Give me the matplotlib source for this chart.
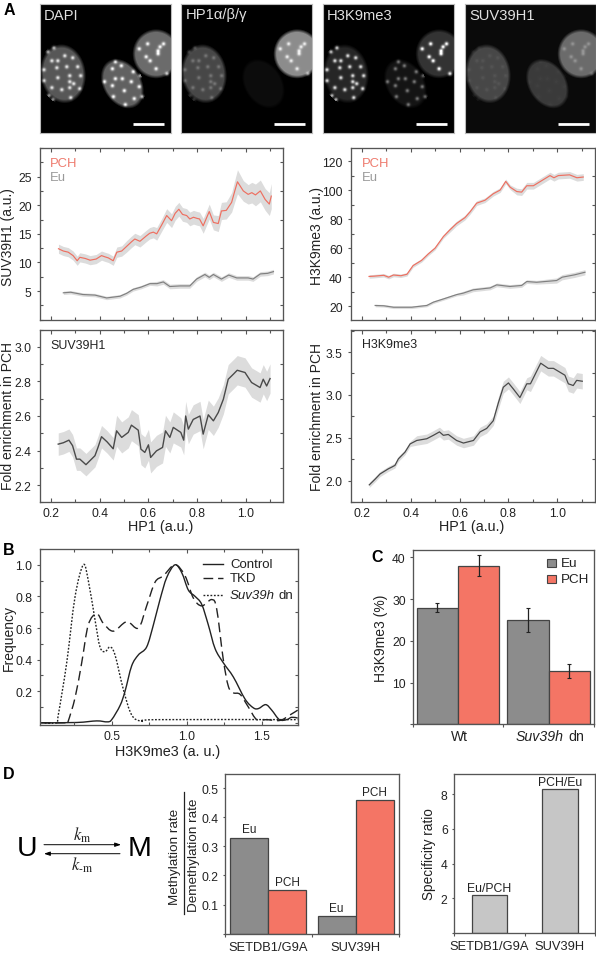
import numpy as np
import matplotlib
matplotlib.use("Agg")
import matplotlib.pyplot as plt
from matplotlib.patches import Rectangle, PathPatch
from matplotlib.path import Path
from matplotlib.ticker import MultipleLocator

plt.rcParams.update({
    "font.family": ["Liberation Sans", "DejaVu Sans"],
    "mathtext.fontset": "custom",
    "mathtext.rm": "Liberation Sans",
    "mathtext.it": "Liberation Sans:italic",
    "mathtext.bf": "Liberation Sans:bold",
})

W, H = 596, 954
SP = "#555555"; TXT = "#222222"
RED = "#F47565"; GREY = "#8C8C8C"; BAND = "#DCDCDC"; DARK = "#444444"

# ---------- A: micrographs ----------
channel_names = ["DAPI", "HP1α/β/γ", "H3K9me3", "SUV39H1"]
nuclei = [(62.3, 75, 23, 30, -8), (122, 85, 19.5, 27, -32), (156, 55, 24, 25, 0)]
foci_n1 = [(64,57),(57,62),(56,69),(66,68),(77,68),(43,82),(57,79),(69,77),(69,83),(69,89),(80,77),(51,89),
           (61,91),(73,85),(52,101),(70,99),(51,62),(53,49),(43,71),(47,53),(72,59),(48,97),(79,90)]
foci_n2 = [(122,80),(124,92),(139,88),(133,73),(112,87),(104,83),(115,63),(112,70),(121,67),(115,80),(113,98),
           (134,100),(142,98),(125,106),(140,77),(131,83)]
foci_n3 = [(160,48),(158,52),(147.5,45),(146,58),(150,62),(156,70),(167,75),(139,50),(158,55),(163.5,45)]
nuc_level = [(.34,.38,.42), (.28,.05,.55), (.15,.08,.20), (.24,.19,.38)]
foci_level = [(.55,.6,.55), (.18,.0,.38), (.7,.38,.8), (.05,.02,.16)]
background = [0.0, 0.0, 0.0, 0.04]
panel_left = [39.5, 181.4, 323.2, 465.0]

# ---------- A: HP1-binned curves ----------
a1_pch_x = [.23,.25,.27,.29,.307,.318,.34,.36,.385,.407,.42,.435,.455,.47,.49,.51,.53,.544,.565,.59,.605,.62,.634,.655,.675,.695,.71,.725,.74,.757,.77,.785,.80,.81,.825,.85,.867,.887,.90,.92,.942,.955,.966,.99,1.01,1.025,1.04,1.06,1.08,1.097,1.105]
a1_pch_y = [12.4,12.0,11.8,11.2,10.3,10.9,10.7,10.4,10.6,11.2,11.0,10.8,10.3,11.8,12.0,12.8,13.6,14.1,13.7,14.6,15.1,15.3,15.0,16.6,18.2,17.3,18.6,19.3,18.4,18.2,17.6,17.9,17.7,17.6,16.4,18.9,17.0,16.8,19.0,19.1,20.5,22.5,24.1,22.5,21.9,22.2,21.8,22.5,21.0,20.2,21.6]
a1_pch_e = [.8,.8,.8,.8,.8,.8,.8,.8,.8,.8,.8,.8,.8,.9,.9,1.0,1.0,1.0,1.0,1.0,1.0,1.0,1.1,1.1,1.2,1.2,1.2,1.2,1.2,1.2,1.2,1.2,1.2,1.2,1.3,1.3,1.3,1.4,1.5,1.5,1.7,1.9,2.1,1.8,1.7,1.8,1.9,1.9,1.9,2.0,2.2]
a1_eu_x = [.25,.28,.33,.38,.428,.483,.51,.537,.57,.606,.635,.661,.688,.73,.77,.798,.832,.85,.867,.90,.93,.963,1.01,1.03,1.06,1.09,1.114]
a1_eu_y = [4.7,4.8,4.4,4.3,3.8,4.1,4.6,5.3,5.7,6.3,6.3,6.6,5.8,5.9,5.9,7.1,7.9,7.4,7.9,7.1,7.8,7.3,7.3,7.1,8.0,8.1,8.4]
a1_eu_e = [.3]*10 + [.4]*17
a2_pch_x = [.23,.25,.29,.31,.33,.36,.385,.41,.445,.472,.50,.534,.56,.588,.622,.643,.67,.704,.738,.766,.789,.807,.834,.854,.875,.902,.936,.97,.986,1.004,1.05,1.08,1.106]
a2_pch_y = [40.5,40.7,41.3,40.0,41.5,41.0,42.0,48.0,51.6,56.0,60.0,68.0,72.5,77.0,81.0,85.0,91.0,93.0,97.5,100.0,106.0,102.0,99.0,98.6,103.0,103.0,106.5,110.0,108.5,110.0,110.5,108.5,109.0]
a2_pch_e = [1.2]*12 + [1.6]*10 + [2.3]*11
a2_eu_x = [.255,.29,.33,.404,.466,.493,.534,.588,.615,.656,.725,.752,.806,.854,.875,.915,.997,1.02,1.07,1.113]
a2_eu_y = [20.5,20.3,19.3,19.3,20.5,22.8,25.0,28.0,29.0,31.3,32.6,34.7,33.6,34.3,37.0,36.5,37.7,40.0,41.6,43.4]
a2_eu_e = [.9]*8 + [1.3]*8 + [1.8]*4
a3_x = [.229,.25,.273,.288,.304,.318,.343,.38,.393,.407,.43,.455,.469,.49,.517,.53,.558,.569,.585,.60,.609,.633,.658,.67,.688,.702,.733,.745,.753,.764,.784,.812,.825,.846,.867,.887,.908,.928,.949,.965,.997,1.024,1.059,1.072,1.086,1.10]
a3_y = [2.437,2.445,2.46,2.428,2.35,2.35,2.318,2.37,2.42,2.48,2.45,2.41,2.514,2.476,2.505,2.547,2.518,2.408,2.389,2.433,2.36,2.398,2.418,2.514,2.476,2.534,2.505,2.46,2.60,2.524,2.58,2.60,2.495,2.607,2.572,2.62,2.697,2.813,2.842,2.865,2.852,2.794,2.765,2.813,2.774,2.817]
a3_e = [.065]*12 + [.09]*14 + [.085]*20
a4_x = [.231,.255,.275,.309,.323,.336,.35,.377,.398,.425,.466,.493,.518,.534,.554,.588,.616,.657,.684,.711,.738,.759,.779,.80,.82,.847,.875,.89,.932,.963,.984,1.031,1.045,1.065,1.079,1.102]
a4_y = [1.953,2.02,2.08,2.14,2.16,2.18,2.256,2.334,2.43,2.47,2.49,2.53,2.57,2.53,2.54,2.47,2.44,2.47,2.57,2.61,2.70,2.91,3.09,3.14,3.07,2.97,3.13,3.13,3.37,3.31,3.31,3.23,3.13,3.11,3.17,3.16]
a4_e = [.03]*9 + [.055]*12 + [.07]*6 + [.09]*9

# ---------- B ----------
ctrl_x = [.03,.267,.40,.47,.50,.556,.589,.633,.678,.733,.778,.822,.867,.922,.967,1.011,1.056,1.10,1.144,1.189,1.244,1.311,1.389,1.444,1.478,1.527,1.567,1.618,1.667,1.70,1.74]
ctrl_y = [0,.002,.012,.006,.02,.11,.20,.36,.43,.48,.62,.78,.92,1.0,.95,.84,.80,.75,.62,.47,.38,.29,.15,.095,.09,.115,.08,.02,.02,.035,.03]
tkd_x = [.03,.20,.21,.256,.30,.344,.40,.444,.511,.60,.678,.733,.789,.844,.922,.989,1.044,1.10,1.167,1.20,1.244,1.278,1.311,1.356,1.411,1.467,1.533,1.622,1.689,1.74]
tkd_y = [0,0,.01,.16,.38,.62,.69,.63,.58,.64,.60,.74,.89,.93,1.0,.93,.79,.74,.78,.72,.40,.23,.19,.18,.10,.02,.02,.015,.05,.08]
suv_x = [.03,.13,.144,.20,.256,.311,.344,.389,.422,.456,.489,.522,.578,.633,.70,.80,1.74]
suv_y = [0,0,.05,.38,.80,1.0,.90,.65,.48,.45,.48,.43,.21,.05,.01,.02,.02]

# ---------- C ----------
c_groups = ["Wt", "Suv39h dn"]
c_eu = [27.9, 25.0]; c_pch = [38.0, 12.8]
c_eu_err = [1.1, 2.85]; c_pch_err = [2.6, 1.65]

# ---------- D ----------
d_groups = ["SETDB1/G9A", "SUV39H"]
d_eu = [.33, .06]; d_pch = [.15, .46]
d_ratio = [2.2, 8.3]; d_ratio_labels = ["Eu/PCH", "PCH/Eu"]

fig = plt.figure(figsize=(W/100, H/100), dpi=100, facecolor="white")

def make_ax(l, t, r, b):
    ax = fig.add_axes([l/W, 1-b/H, (r-l)/W, (b-t)/H])
    for s in ax.spines.values():
        s.set_color(SP); s.set_linewidth(0.95)
    return ax

def style(ax, xmaj=None, xmin=None, ymaj=None, ymin=None, fs=8.7, box=True):
    if xmaj: ax.xaxis.set_major_locator(MultipleLocator(xmaj))
    if xmin: ax.xaxis.set_minor_locator(MultipleLocator(xmin))
    if ymaj: ax.yaxis.set_major_locator(MultipleLocator(ymaj))
    if ymin: ax.yaxis.set_minor_locator(MultipleLocator(ymin))
    ax.tick_params(axis="x", which="both", direction="in", top=box, color=SP, width=0.8, labelsize=fs, labelcolor=TXT, pad=3.5)
    ax.tick_params(axis="y", which="both", direction="in", right=box, color=SP, width=0.8, labelsize=fs, labelcolor=TXT, pad=3.5)
    ax.tick_params(which="major", length=3); ax.tick_params(which="minor", length=2)
    ax.tick_params(axis="y", which="major", left=True, direction="out", length=2.2, right=False)

# micrographs
yy, xx = np.mgrid[4.5:134:130j, 0:131:131j]
for i, name in enumerate(channel_names):
    ax = make_ax(panel_left[i], 4.5, min(panel_left[i]+131, 596), 134)
    img = np.full(xx.shape, background[i])
    X = xx + 39.5
    for (cx, cy, rx, ry, ang), nl, fl, foci in zip(nuclei, nuc_level[i], foci_level[i], [foci_n1, foci_n2, foci_n3]):
        a = np.deg2rad(ang)
        u = (X-cx)*np.cos(a) + (yy-cy)*np.sin(a)
        v = -(X-cx)*np.sin(a) + (yy-cy)*np.cos(a)
        d = np.sqrt((u/rx)**2 + (v/ry)**2)
        img += nl*np.clip((1-d)*7, 0, 1)
        for fx, fy in foci:
            img += fl*np.exp(-((X-fx)**2 + (yy-fy)**2)/(2*1.35**2))*(d < 1.05)
    ax.imshow(np.clip(img, 0, 1), cmap="gray", vmin=0, vmax=1, aspect="auto", interpolation="bilinear",
              extent=[0, 131, 134, 4.5])
    ax.set_xlim(0, 131); ax.set_ylim(134, 4.5)
    ax.set_xticks([]); ax.set_yticks([])
    for s in ax.spines.values():
        s.set_color("#BBBBBB"); s.set_linewidth(0.8)
    ax.text(4, 15.5, name, color="#E0E0E0", fontsize=10.6, va="center", ha="left")
    ax.plot([93, 124], [125, 125], color="white", lw=2, solid_capstyle="butt")

def curve(ax, x, y, e, col, lw=0.85):
    x, y, e = np.array(x), np.array(y), np.array(e)
    ax.fill_between(x, y-e, y+e, color=BAND, lw=0)
    ax.plot(x, y, color=col, lw=lw)

def smooth_line(ax, x, y, **kw):
    """Draw through every listed point with Bezier joins."""
    p = np.column_stack([x, y])
    verts = [p[0]]; codes = [Path.MOVETO]
    for k in range(len(p)-1):
        p0 = p[max(k-1, 0)]; p1 = p[k]; p2 = p[k+1]; p3 = p[min(k+2, len(p)-1)]
        verts += [p1+(p2-p0)/6, p2-(p3-p1)/6, p2]
        codes += [Path.CURVE4]*3
    ax.add_patch(PathPatch(Path(verts, codes), fc="none", ec="#222222", lw=1.0, **kw))

XL = (0.152, 1.152)
ax = make_ax(39.5, 149, 282.7, 320.7)
curve(ax, a1_pch_x, a1_pch_y, a1_pch_e, "#EE6F60")
curve(ax, a1_eu_x, a1_eu_y, a1_eu_e, "#808080")
ax.set_xlim(*XL); ax.set_ylim(0, 30)
style(ax, .2, .1, 5, 2.5); ax.set_yticks([5,10,15,20,25]); ax.tick_params(axis="x", which="major", labelbottom=False)

ax = make_ax(350.7, 149, 595, 321)
curve(ax, a2_pch_x, a2_pch_y, a2_pch_e, "#EE6F60")
curve(ax, a2_eu_x, a2_eu_y, a2_eu_e, "#808080")
ax.set_xlim(0.155, 1.154); ax.set_ylim(10.5, 129)
style(ax, .2, .1, 20, 10); ax.set_yticks([20,40,60,80,100,120]); ax.tick_params(axis="x", which="major", labelbottom=False)

ax = make_ax(39.5, 330.7, 282.7, 503.3)
curve(ax, a3_x, a3_y, a3_e, "#4A4A4A", lw=1.0)
ax.set_xlim(*XL); ax.set_ylim(2.1, 3.1)
style(ax, .2, .1, .2, .1); ax.set_xticks([.2,.4,.6,.8,1.0]); ax.set_yticks([2.2,2.4,2.6,2.8,3.0])

ax = make_ax(350.7, 330.7, 595, 503.3)
curve(ax, a4_x, a4_y, a4_e, "#4A4A4A", lw=0.9)
ax.set_xlim(0.155, 1.154); ax.set_ylim(1.75, 3.76)
style(ax, .2, .1, .5, .25); ax.set_xticks([.2,.4,.6,.8,1.0]); ax.set_yticks([2.0,2.5,3.0,3.5])

# B
ax = make_ax(40.3, 550, 298.3, 725.7)
smooth_line(ax, ctrl_x, ctrl_y)
smooth_line(ax, tkd_x, tkd_y, linestyle=(0, (7, 3.5)))
smooth_line(ax, suv_x, suv_y, linestyle=(0, (1.3, 1.2)))
ax.set_xlim(0.024, 1.744); ax.set_ylim(-0.012, 1.10)
style(ax, .5, .25, .2, .1); ax.set_xticks([.5,1.0,1.5]); ax.set_yticks([.2,.4,.6,.8,1.0])

# C
ax = make_ax(412.7, 550.7, 594, 725.4)
cpos = np.arange(len(c_groups)) + .5
bw = 0.456
ax.bar(cpos-bw/2, c_eu, bw, color=GREY, edgecolor=DARK, lw=0.9)
ax.bar(cpos+bw/2, c_pch, bw, color=RED, edgecolor=DARK, lw=0.9)
ek = dict(ecolor="#222222", elinewidth=0.9, capsize=1.2, capthick=0.8, ls="none")
ax.errorbar(cpos-bw/2, c_eu, yerr=c_eu_err, **ek)
ax.errorbar(cpos+bw/2, c_pch, yerr=c_pch_err, **ek)
ax.set_xlim(0, 2); ax.set_ylim(0, 41.8)
ax.set_yticks([0,10,20,30,40]); ax.set_yticklabels(["","10","20","30","40"])
ax.set_xticks([0,1,2]); ax.set_xticklabels([])
ax.tick_params(axis="both", direction="out", length=2, color=SP, width=.8, labelsize=8.7, labelcolor=TXT, pad=3)

# D1
ax = make_ax(224.7, 775, 399.2, 934.6)
dpos = np.arange(2) + .5
bw = 0.435
b1 = ax.bar(dpos-bw/2, d_eu, bw, color=GREY, edgecolor=DARK, lw=0.9)
b2 = ax.bar(dpos+bw/2, d_pch, bw, color=RED, edgecolor=DARK, lw=0.9)
for r in b1:
    ax.text(r.get_x()+r.get_width()/2, r.get_height()+.008, "Eu", ha="center", va="bottom", fontsize=8.5, color=TXT)
for r in b2:
    ax.text(r.get_x()+r.get_width()/2, r.get_height()+.008, "PCH", ha="center", va="bottom", fontsize=8.5, color=TXT)
ax.set_xlim(0, 2); ax.set_ylim(0, 0.549)
ax.set_yticks([0,.1,.2,.3,.4,.5]); ax.set_yticklabels(["","0.1","0.2","0.3","0.4","0.5"])
ax.set_xticks([0,1,2]); ax.set_xticklabels([])
ax.set_xticks(dpos, d_groups, minor=True)
ax.tick_params(axis="both", which="major", direction="out", length=1.8, color=SP, width=.8, labelsize=8.7, labelcolor=TXT, pad=3)
ax.tick_params(axis="x", which="minor", length=0, labelsize=9.3, labelcolor=TXT, pad=5)

# D2
ax = make_ax(454.3, 775, 595, 934.2)
bars = ax.bar(dpos, d_ratio, 0.51, color="#C6C6C6", edgecolor=DARK, lw=0.9)
for r, t in zip(bars, d_ratio_labels):
    ax.text(r.get_x()+r.get_width()/2, r.get_height()+.03, t, ha="center", va="bottom", fontsize=8.8, color=TXT)
ax.set_xlim(0, 2); ax.set_ylim(0, 9.15)
ax.set_yticks([0,2,4,6,8]); ax.set_yticklabels(["","2","4","6","8"])
ax.set_xticks([0,1,2]); ax.set_xticklabels([])
ax.set_xticks(dpos, d_groups, minor=True)
ax.tick_params(axis="both", which="major", direction="out", length=1.8, color=SP, width=.8, labelsize=8.7, labelcolor=TXT, pad=3)
ax.tick_params(axis="x", which="minor", length=0, labelsize=9.3, labelcolor=TXT, pad=5)

# overlay in pixel coordinates for labels and the scheme
ov = fig.add_axes([0, 0, 1, 1], zorder=20); ov.set_xlim(0, W); ov.set_ylim(H, 0); ov.axis("off"); ov.patch.set_alpha(0)
def T(x, y, s, fs=10, rot=0, ha="center", col=TXT, **kw):
    ov.text(x, y, s, fontsize=fs, rotation=rot, ha=ha, va="center", color=col, **kw)

for x, y, s in [(9, 10.5, "A"), (9, 550.5, "B"), (377, 558, "C"), (9, 775, "D")]:
    T(x, y, s, fs=11.5, fontweight="bold", col="black")

T(8, 237, "SUV39H1 (a.u.)", rot=90); T(317, 236, "H3K9me3 (a.u.)", rot=90)
T(8, 416, "Fold enrichment in PCH", rot=90); T(317, 417, "Fold enrichment in PCH", rot=90)
T(161, 527, "HP1 (a.u.)", fs=10.4); T(472, 527, "HP1 (a.u.)", fs=10.4)
for x in (50, 361.7):
    T(x, 164, "PCH", fs=9.4, ha="left", col="#EE7B6E")
    T(x, 178, "Eu", fs=9.4, ha="left", col="#9A9A9A")
T(50, 346, "SUV39H1", fs=8.9, ha="left"); T(361.7, 345, "H3K9me3", fs=8.9, ha="left")

T(9, 638, "Frequency", rot=90); T(168, 752, "H3K9me3 (a. u.)", fs=10.4)
ov.plot([203, 223], [565, 565], color="#222222", lw=1.0)
ov.plot([203, 223], [579, 579], color="#222222", lw=1.0, dashes=(7, 3.5))
ov.plot([203, 223], [596, 596], color="#222222", lw=1.0, dashes=(1.3, 1.2))
T(230, 565, "Control", fs=9.5, ha="left"); T(230, 579.5, "TKD", fs=9.5, ha="left")
T(230, 596, "Suv39h", fs=9.5, ha="left", style="italic"); T(278.4, 596, "dn", fs=9.5, ha="left")

T(381, 638, "H3K9me3 (%)", rot=90)
T(459, 737, c_groups[0], fs=10)
T(516, 737, c_groups[1].split()[0], fs=10.2, ha="left", style="italic")
T(568, 737, c_groups[1].split()[1], fs=10.2, ha="left")
ov.add_patch(Rectangle((547, 560), 9, 8, fc=GREY, ec=DARK, lw=.8))
ov.add_patch(Rectangle((547, 575.5), 9, 8, fc=RED, ec=DARK, lw=.8))
T(561, 564.5, "Eu", fs=9.7, ha="left"); T(561, 580, "PCH", fs=9.7, ha="left")

T(27.3, 849, "U", fs=20.5, col="black"); T(140, 849, "M", fs=20.5, col="black")
ov.annotate("", xy=(121, 845.7), xytext=(44, 845.7), arrowprops=dict(arrowstyle="-|>,head_width=.12,head_length=.35", lw=.7, color="black", shrinkA=0, shrinkB=0))
ov.annotate("", xy=(44, 854.7), xytext=(120, 854.7), arrowprops=dict(arrowstyle="-|>,head_width=.12,head_length=.35", lw=.7, color="black", shrinkA=0, shrinkB=0))
T(82, 835.5, r"$k_{\mathrm{m}}$", fs=12, math_fontfamily="stix")
T(82, 865, r"$k_{\mathrm{\text{-}m}}$", fs=12, math_fontfamily="stix")
T(175, 856.5, "Methylation rate", rot=90, fs=9.7); T(194, 855, "Demethylation rate", rot=90, fs=9.7)
ov.plot([184.3, 184.3], [793, 915], color="#222222", lw=.9)
T(429, 854, "Specificity ratio", rot=90, fs=9.8)

fig.savefig("out.png", dpi=100)
